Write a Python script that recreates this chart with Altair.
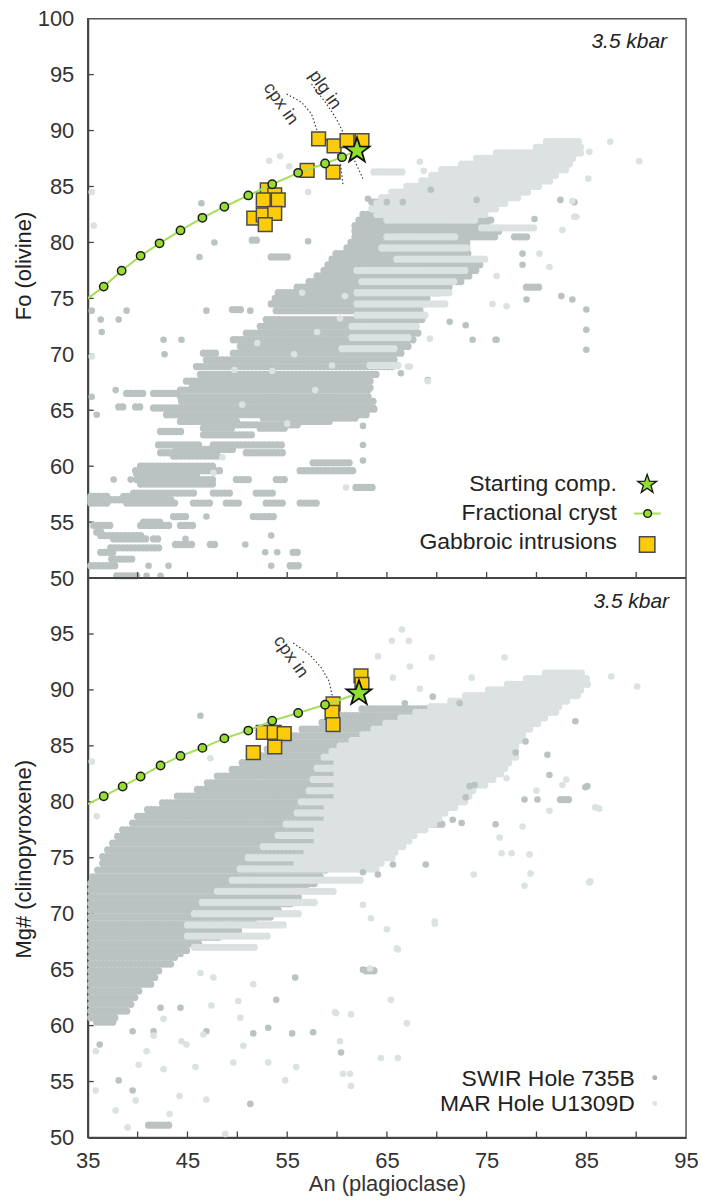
import altair as alt
import pandas as pd

# ---------------- data ----------------
# Olivine panel: dense horizontal streaks of SWIR Hole 735B analyses (Fo, An from, An to)
TOP_SWIR_STREAKS = [
    (50.2, 37.9, 40.3), (51.1, 35.3, 37.9), (51.1, 55.3, 56.3), (51.7, 37.4, 39.6), (52.3, 36.3, 37.8),
    (52.3, 55.6, 56.3), (52.7, 37.3, 42.3), (53.0, 43.8, 45.6), (53.0, 47.3, 48.1), (53.5, 37.6, 40.9),
    (53.5, 41.6, 42.3), (53.8, 36.3, 40.6), (54.1, 35.9, 36.6), (54.7, 35.6, 37.6), (54.7, 40.3, 43.3),
    (54.7, 44.3, 45.9), (55.0, 40.6, 42.6), (55.5, 43.6, 44.9), (55.5, 51.6, 53.9), (56.7, 35.3, 37.3),
    (56.7, 38.9, 43.9), (56.7, 45.6, 47.3), (56.7, 48.9, 50.3), (56.7, 52.9, 54.9), (56.7, 56.3, 58.3),
    (57.0, 35.3, 43.6), (57.3, 35.3, 37.3), (57.3, 38.6, 42.3), (57.6, 39.6, 45.9), (57.6, 47.6, 49.6),
    (57.6, 51.9, 53.9), (58.1, 61.9, 63.9), (58.4, 40.3, 47.9), (58.8, 39.9, 47.6), (58.8, 49.9, 51.3),
    (58.8, 53.9, 54.9), (59.3, 39.9, 46.3), (59.6, 39.8, 48.3), (59.6, 56.3, 61.6), (60.0, 40.3, 47.9),
    (60.3, 57.6, 61.3), (60.9, 43.6, 48.3), (61.2, 42.3, 44.9), (61.2, 46.6, 47.6), (61.2, 50.9, 54.9),
    (61.5, 43.9, 49.6), (61.9, 42.1, 46.3), (61.9, 47.6, 54.6), (62.8, 46.6, 51.6), (63.1, 42.3, 44.6),
    (63.4, 46.6, 49.6), (63.4, 52.3, 54.9), (63.7, 46.8, 56.3), (64.0, 44.3, 50.3), (64.0, 55.6, 59.6),
    (64.3, 44.4, 46.6), (64.3, 52.6, 62.0), (64.6, 42.9, 63.0), (65.2, 41.6, 64.0), (65.3, 38.1, 38.6),
    (65.3, 39.8, 40.3), (65.8, 44.4, 64.0), (66.2, 44.3, 63.5), (66.5, 38.9, 40.9), (66.5, 41.6, 44.3),
    (66.8, 44.3, 63.5), (67.2, 45.5, 63.0), (67.6, 44.9, 63.6), (68.2, 46.3, 64.1), (68.9, 45.9, 65.6),
    (69.5, 46.9, 66.0), (70.1, 46.6, 47.9), (70.1, 49.6, 66.8), (70.7, 50.3, 67.5), (71.3, 49.6, 67.9),
    (71.9, 50.9, 68.3), (72.5, 52.3, 68.3), (73.1, 52.9, 68.7), (73.9, 53.9, 68.7), (74.0, 49.5, 50.5),
    (74.5, 53.4, 68.7), (75.0, 53.8, 69.4), (75.5, 54.1, 70.5), (76.0, 56.0, 71.5), (76.0, 79.0, 80.5),
    (76.5, 57.2, 72.5), (77.0, 58.0, 73.3), (77.5, 58.7, 74.0), (78.0, 59.1, 74.5), (78.5, 59.5, 73.3),
    (78.7, 53.4, 55.1), (79.0, 59.9, 73.3), (79.5, 61.0, 73.3), (80.0, 61.4, 73.3), (80.2, 51.5, 52.3),
    (80.5, 61.8, 76.0), (80.5, 77.8, 79.4), (81.0, 61.8, 76.3), (81.5, 61.8, 75.2), (82.0, 62.2, 75.6),
    (82.5, 62.6, 73.3), (83.0, 64.5, 69.4), (83.0, 71.0, 73.3), (83.5, 65.6, 68.7), (83.6, 63.5, 66.6),
    (65.1, 61.3, 63.9), (67.0, 61.3, 63.6),
]
TOP_SWIR_DOTS = [  # (An, Fo)
    (40.9, 50.2), (42.3, 50.2), (41.1, 51.1), (43.1, 51.1), (53.4, 51.1), (52.8, 52.3), (54.0, 52.3),
    (50.8, 53.0), (44.8, 53.5), (53.4, 53.8), (46.9, 55.5), (37.6, 58.8), (39.3, 58.8), (42.6, 71.3),
    (44.4, 71.3), (42.7, 70.0), (36.3, 73.1), (38.1, 73.1), (36.4, 72.0), (38.9, 73.9), (46.9, 73.9),
    (51.3, 73.9), (35.4, 73.9), (37.8, 66.8), (35.9, 64.6), (35.4, 66.2), (46.4, 83.5), (47.7, 80.0),
    (46.2, 78.7), (57.1, 80.1), (62.6, 63.6), (62.6, 61.9), (61.6, 59.6), (62.6, 60.5), (85.0, 74.0),
    (85.0, 72.2), (85.0, 70.4), (75.9, 71.3), (73.6, 71.3), (71.3, 72.9), (72.9, 72.6), (69.1, 67.7),
    (76.0, 71.3), (78.6, 79.0), (82.5, 75.2), (83.6, 74.9), (79.0, 74.9), (63.1, 83.9), (69.4, 84.7),
    (65.0, 83.6), (66.6, 83.6), (74.0, 83.8), (82.4, 83.8), (83.8, 83.6), (79.8, 82.1), (78.6, 78.0),
    (66.4, 68.3),
]
# Olivine panel: MAR Hole U1309D
TOP_MAR_STREAKS = [
    (89.0, 81.0, 84.5), (88.5, 80.0, 84.8), (88.0, 76.0, 84.5), (87.5, 74.0, 84.0), (87.0, 72.5, 83.5),
    (86.5, 70.5, 83.0), (86.3, 63.7, 66.8), (86.0, 69.5, 82.0), (85.5, 68.5, 81.5), (85.0, 67.0, 80.5),
    (84.5, 65.5, 79.5), (84.0, 64.5, 78.5), (83.5, 64.0, 77.0), (83.0, 63.5, 76.0), (82.5, 64.0, 75.0),
    (82.0, 65.0, 74.0), (81.3, 74.5, 80.0), (80.5, 65.0, 72.0), (79.5, 64.5, 73.0), (78.5, 66.0, 75.0),
    (77.5, 62.0, 73.0), (76.5, 62.5, 72.0), (75.5, 62.0, 71.5), (74.5, 62.0, 71.0), (73.5, 62.0, 69.0),
    (72.5, 61.5, 68.0), (71.5, 61.5, 67.5), (70.5, 60.5, 66.0), (69.0, 63.3, 66.4),
]
TOP_MAR_DOTS = [
    (35.4, 84.5), (35.6, 81.5), (35.4, 69.8), (53.2, 87.3), (54.3, 87.7), (55.2, 86.8), (57.1, 84.5),
    (87.4, 89.0), (90.3, 87.25), (85.3, 88.1), (85.2, 85.7), (84.0, 82.3), (82.6, 81.1), (81.3, 77.8),
    (83.6, 83.7), (83.8, 82.3), (67.3, 68.9), (69.3, 71.4), (67.1, 68.9), (69.1, 67.6), (75.6, 74.5),
    (77.0, 74.3), (60.3, 73.2), (55.7, 70.0), (58.0, 72.0), (59.5, 69.0), (57.8, 66.8), (53.5, 68.5),
    (50.5, 65.5), (55.0, 63.8), (48.5, 60.8), (47.6, 59.4), (60.9, 58.1), (49.7, 68.6), (52.0, 71.0),
    (56.5, 75.5), (60.8, 75.2), (68.7, 86.4), (68.3, 87.2), (71.7, 86.2), (80.3, 79.0), (73.0, 79.5),
    (76.0, 77.0),
]

# Clinopyroxene panel: SWIR Hole 735B (Mg#, An from, An to)
BOT_SWIR_STREAKS = [
    (88.3, 62.5, 69.6), (87.7, 60.0, 70.0), (87.1, 58.5, 70.3), (86.5, 56.5, 70.5), (85.9, 55.5, 70.8),
    (85.3, 54.0, 71.0), (84.7, 53.0, 70.5), (84.1, 52.0, 69.5), (83.5, 50.5, 68.0), (82.9, 49.5, 67.0),
    (82.3, 48.0, 66.0), (81.7, 47.0, 65.0), (81.1, 46.0, 64.5), (80.5, 44.0, 64.0), (79.9, 42.5, 63.5),
    (79.3, 41.0, 63.0), (78.7, 40.0, 63.0), (78.1, 39.5, 62.5), (77.5, 38.5, 62.5), (76.9, 38.0, 62.0),
    (76.3, 37.5, 61.5), (75.7, 37.0, 61.5), (75.1, 36.5, 60.5), (74.5, 36.5, 60.0), (73.9, 36.0, 59.0),
    (73.3, 35.5, 58.5), (72.7, 35.3, 58.0), (72.1, 35.3, 57.0), (71.5, 35.3, 56.5), (70.9, 35.3, 55.5),
    (70.3, 35.3, 54.5), (69.7, 35.3, 53.5), (69.1, 35.3, 52.0), (68.5, 35.3, 50.5), (67.9, 35.3, 48.5),
    (67.3, 35.3, 46.5), (66.7, 35.3, 45.0), (66.1, 35.3, 44.0), (65.5, 35.3, 43.5), (64.9, 35.3, 42.5),
    (64.3, 35.3, 42.0), (63.7, 35.3, 41.5), (63.1, 35.3, 40.5), (62.5, 35.3, 40.0), (61.9, 35.3, 39.5),
    (61.3, 35.3, 39.0), (60.7, 35.3, 38.0), (60.3, 35.9, 37.6), (51.1, 41.1, 43.4), (64.9, 62.9, 63.8),
    (78.0, 69.3, 70.9), (80.2, 82.4, 83.6),
]
BOT_SWIR_DOTS = [
    (66.8, 88.8), (69.6, 89.4), (72.3, 88.8), (81.3, 82.4), (84.9, 81.3), (80.1, 80.2), (78.8, 80.2),
    (71.6, 78.4), (75.9, 78.0), (72.9, 80.4), (73.8, 81.5), (77.9, 84.4), (78.9, 85.4), (81.1, 84.2),
    (83.9, 87.2), (68.9, 74.4), (65.6, 74.4), (62.6, 73.7), (85.1, 81.4), (73.3, 81.4), (72.5, 78.1),
    (64.1, 73.5), (62.6, 65.0), (36.2, 58.3), (38.1, 55.1), (39.5, 54.2), (39.5, 59.5), (41.6, 59.5),
    (42.3, 61.6), (44.3, 61.6), (44.3, 66.4), (46.9, 59.5), (51.6, 59.3), (51.3, 53.0), (53.1, 59.8),
    (53.9, 62.3), (55.5, 59.3), (55.8, 64.3), (57.6, 59.4), (60.4, 57.6), (46.3, 87.7),
]
# Clinopyroxene panel: MAR Hole U1309D
BOT_MAR_STREAKS = [
    (91.5, 80.9, 84.8), (91.0, 79.0, 85.1), (90.5, 77.1, 85.5), (90.0, 75.2, 84.8), (89.5, 72.9, 84.4),
    (89.0, 71.4, 83.2), (88.5, 69.4, 82.5), (88.0, 67.9, 82.1), (87.5, 66.4, 80.9), (87.0, 64.9, 80.2),
    (86.5, 63.7, 79.4), (86.0, 62.6, 78.8), (85.5, 61.5, 78.5), (85.0, 60.3, 78.3), (84.5, 59.5, 78.0),
    (84.0, 58.7, 78.0), (83.5, 60.0, 77.5), (83.0, 58.0, 77.0), (82.5, 60.0, 76.5), (82.0, 57.6, 76.0),
    (81.5, 60.0, 75.0), (81.0, 57.2, 74.0), (80.5, 60.0, 73.5), (80.0, 56.4, 73.0), (79.5, 59.0, 72.0),
    (79.0, 56.0, 71.0), (78.5, 59.0, 70.5), (78.0, 54.9, 70.0), (77.5, 58.0, 69.0), (77.0, 54.1, 67.9),
    (76.5, 58.0, 67.3), (76.0, 52.6, 66.8), (75.5, 57.0, 66.2), (75.0, 51.1, 65.6), (74.5, 56.0, 64.8),
    (74.0, 50.3, 64.1), (73.0, 49.5, 62.6), (72.0, 48.0, 59.9), (71.0, 46.5, 58.0), (70.0, 45.7, 56.4),
    (69.0, 45.0, 54.9), (68.0, 45.0, 53.4), (67.0, 45.7, 51.8),
]
BOT_MAR_DOTS = [
    (66.5, 95.4), (65.5, 94.4), (67.2, 94.4), (64.1, 93.0), (69.5, 92.9), (67.3, 92.1), (76.8, 92.9),
    (65.6, 91.1), (73.5, 91.1), (68.3, 90.1), (87.5, 91.2), (90.1, 90.3), (86.3, 79.4), (83.0, 82.0),
    (85.4, 72.9), (78.8, 72.5), (79.4, 73.6), (77.5, 75.4), (76.5, 75.4), (73.7, 73.5), (69.8, 69.3),
    (66.0, 66.9), (63.3, 65.1), (65.4, 62.3), (67.0, 60.2), (59.9, 61.1), (61.4, 54.6), (62.6, 70.8),
    (63.4, 69.6), (65.0, 68.6), (66.1, 66.8), (69.8, 69.1), (85.3, 72.8), (64.4, 57.1), (66.1, 57.1),
    (61.4, 61.0), (61.3, 55.7), (35.8, 57.7), (35.8, 54.2), (37.8, 52.4), (39.0, 50.9), (39.8, 53.3),
    (40.1, 56.5), (40.9, 57.7), (42.6, 56.1), (43.2, 52.1), (44.4, 58.6), (44.9, 58.3), (45.8, 56.3),
    (46.9, 53.4), (44.2, 53.7), (48.8, 50.3), (50.6, 58.2), (49.6, 56.7), (50.3, 60.7), (53.1, 56.7),
    (54.8, 55.1), (55.9, 56.3), (59.8, 61.2), (60.3, 58.6), (60.6, 55.7), (42.6, 60.6), (41.6, 59.1),
    (46.6, 59.2), (47.4, 61.8), (50.1, 62.2), (47.6, 64.3), (51.6, 63.7), (46.3, 64.7), (35.4, 83.6),
    (35.9, 78.7), (47.3, 83.9), (77.0, 82.1), (80.0, 81.0), (81.3, 79.2), (82.6, 81.5), (85.9, 79.5),
    (78.6, 77.8), (76.3, 76.8), (79.3, 75.3),
]

# Fractional crystallization model
TOP_FC_AN = [36.6, 38.4, 40.3, 42.2, 44.3, 46.5, 48.7, 51.1, 53.5, 56.1, 58.8, 60.5]
TOP_FC_FO = [76.05, 77.47, 78.8, 79.92, 81.07, 82.2, 83.19, 84.2, 85.2, 86.22, 87.05, 87.62]
TOP_FC_START = (35.0, 75.0)
BOT_FC_AN = [36.6, 38.5, 40.3, 42.3, 44.3, 46.5, 48.7, 51.1, 53.5, 56.1, 58.8]
BOT_FC_MG = [80.5, 81.37, 82.26, 83.25, 84.1, 84.82, 85.67, 86.37, 87.25, 87.94, 88.68]
BOT_FC_START = (35.0, 79.8)

# Starting composition
TOP_START = (62.0, 88.2)
BOT_START = (62.2, 89.7)

# Gabbroic intrusions
TOP_GAB_AN = [58.15, 59.7, 61.0, 62.5, 57.0, 59.6, 53.0, 53.75, 52.6, 54.1, 51.65, 52.6, 53.75, 52.8]
TOP_GAB_FO = [89.26, 88.63, 89.1, 89.1, 86.43, 86.28, 84.7, 84.26, 83.8, 83.8, 82.17, 82.47, 82.6, 81.6]
BOT_GAB_AN = [62.4, 62.5, 59.6, 59.5, 59.6, 52.6, 53.7, 54.7, 53.75, 51.6]
BOT_GAB_MG = [91.25, 90.5, 88.75, 88.0, 86.9, 86.2, 86.2, 86.1, 84.9, 84.4]

# Phase-in boundaries (dotted) and their labels
TOP_CPX_AN = [54.94, 56.44, 57.44, 58.0, 59.27, 60.27, 60.6]
TOP_CPX_FO = [93.27, 92.52, 91.49, 90.0, 88.82, 87.62, 85.1]
TOP_PLG_AN = [57.44, 58.94, 59.94, 60.6, 61.6, 62.6]
TOP_PLG_FO = [94.16, 92.38, 91.04, 89.85, 87.62, 85.7]
BOT_CPX_AN = [55.6, 57.27, 58.44, 59.2, 59.54]
BOT_CPX_MG = [94.2, 93.15, 91.96, 90.78, 89.44]
TOP_PHASE_LABELS = [("cpx in", 54.34, 92.38), ("plg in", 58.77, 93.62)]
BOT_PHASE_LABELS = [("cpx in", 55.34, 92.95)]

X_TICKS = [40, 45, 50, 55, 60, 65, 70, 75, 80, 85, 90]
X_LABELS = [35, 45, 55, 65, 75, 85, 95]
Y_TICKS = [55, 60, 65, 70, 75, 80, 85, 90, 95]
Y_LABELS = [50, 55, 60, 65, 70, 75, 80, 85, 90, 95, 100]
TOP_LEGEND = ["Starting comp.", "Fractional cryst", "Gabbroic intrusions"]
BOT_LEGEND = ["SWIR Hole 735B", "MAR Hole U1309D"]
PRESSURE = "3.5 kbar"
Y_TITLES = ["Fo (olivine)", "Mg# (clinopyroxene)"]
X_TITLE = "An (plagioclase)"

# ---------------- styling / layout (pixels) ----------------
# One plot area holds both panels: the olivine panel is the upper half
# (stacked value = Fo), the clinopyroxene panel the lower half (stacked value = Mg# - 50).
FONT = "Liberation Sans"
W, PH = 600, 561
H = 2 * PH
SWIR_C = "#bac3c2"
MAR_C = "#dbe2e1"
DOT = 6.6
STREAK_W = 7.3
TEXT_C = "#222222"
AX_C = "#444444"
STAR = ("M0,-1L0.235,-0.324L0.951,-0.309L0.38,0.124L0.588,0.809L0,0.4L-0.588,0.809"
        "L-0.38,0.124L-0.951,-0.309L-0.235,-0.324Z")

xs = alt.Scale(domain=[35, 95], nice=False, zero=False)
ys = alt.Scale(domain=[0, 100], nice=False, zero=False)

yaxis = alt.Axis(values=[v - 50 for v in Y_LABELS[:-1]] + Y_LABELS, ticks=False, tickSize=0,
                 grid=False, domain=True, domainColor=AX_C, domainWidth=2, labelFont=FONT,
                 labelFontSize=22, labelColor="#333333", labelPadding=14, title=None,
                 labelExpr="datum.value >= 50 ? datum.value : datum.value + 50",
                 labelFlush=False, labelOverlap=False)
xaxis = alt.Axis(values=X_LABELS, ticks=False, tickSize=0, grid=False, domain=True,
                 domainColor=AX_C, domainWidth=2, labelFont=FONT, labelFontSize=22,
                 labelColor="#333333", labelPadding=13, title=X_TITLE, titleFont=FONT,
                 titleFontSize=22, titleFontWeight="normal", titleColor="#333333",
                 titlePadding=2, labelFlush=False)


def X(f):
    return alt.X(f, type="quantitative", scale=xs, axis=xaxis)


def Y(f="ys"):
    return alt.Y(f, type="quantitative", scale=ys, axis=yaxis)


def dx(px):   # layout pixel -> x value
    return 35 + px * 60.0 / W


def dy(py):   # layout pixel -> stacked y value
    return 100 - py * 100.0 / H


def shift(ch, bottom):
    return ch.transform_calculate(ys="datum.y - 50" if bottom else "datum.y")


def streaks(rows, color, bottom):
    df = pd.DataFrame(rows, columns=["y", "x", "x2"])
    ch = alt.Chart(df).mark_rule(color=color, strokeWidth=STREAK_W, strokeCap="round",
                                 strokeDash=[0.1, 3.9]).encode(x=X("x"), x2="x2:Q", y=Y())
    return shift(ch, bottom)


def dots(rows, color, bottom):
    df = pd.DataFrame(rows, columns=["x", "y"])
    ch = alt.Chart(df).mark_circle(color=color, size=DOT * DOT, opacity=1).encode(x=X("x"), y=Y())
    return shift(ch, bottom)


def model_layers(fc_an, fc_y, fc_start, star, gab_an, gab_y, bottom):
    line_df = pd.DataFrame({"x": [fc_start[0]] + fc_an + [star[0]],
                            "y": [fc_start[1]] + fc_y + [star[1]],
                            "o": list(range(len(fc_an) + 2))})
    gab = shift(alt.Chart(pd.DataFrame({"x": gab_an, "y": gab_y})).mark_point(
        shape="square", filled=True, fill="#fccb0a", stroke="#4a4a4a", strokeWidth=1.5,
        size=190, opacity=1).encode(x=X("x"), y=Y()), bottom)
    line = shift(alt.Chart(line_df).mark_line(color="#a5df5a", strokeWidth=2, clip=True).encode(
        x=X("x"), y=Y(), order="o:Q"), bottom)
    circ = shift(alt.Chart(pd.DataFrame({"x": fc_an, "y": fc_y})).mark_point(
        shape="circle", filled=True, fill="#97dc34", stroke="#1c1c1c", strokeWidth=1.5,
        size=70, opacity=1).encode(x=X("x"), y=Y()), bottom)
    st = shift(alt.Chart(pd.DataFrame({"x": [star[0]], "y": [star[1]]})).mark_point(
        shape=STAR, filled=True, fill="#8fdf2e", stroke="#111111", strokeWidth=1.8,
        size=690, opacity=1).encode(x=X("x"), y=Y()), bottom)
    return [gab, line, circ, st]


def phase_layers(curves, labels, bottom):
    out = []
    for an, yy in curves:
        df = pd.DataFrame({"x": an, "y": yy, "o": list(range(len(an)))})
        out.append(shift(alt.Chart(df).mark_line(color="#333333", strokeWidth=1.1,
                                                 strokeDash=[1.5, 2.2]).encode(
            x=X("x"), y=Y(), order="o:Q"), bottom))
    ldf = pd.DataFrame(labels, columns=["t", "x", "y"])
    out.append(shift(alt.Chart(ldf).mark_text(font=FONT, fontSize=18, color="#333333", angle=55,
                                              align="center", baseline="middle").encode(
        x=X("x"), y=Y(), text="t:N"), bottom))
    return out


def texts(items, **kw):
    df = pd.DataFrame([(t, dx(px), dy(py)) for t, px, py in items], columns=["t", "x", "ys"])
    return alt.Chart(df).mark_text(font=FONT, color=TEXT_C, **kw).encode(
        x=X("x"), y=Y(), text="t:N")


def symbols(px, py, **kw):
    df = pd.DataFrame({"x": [dx(p) for p in px], "ys": [dy(p) for p in py]})
    return alt.Chart(df).mark_point(filled=True, opacity=1, **kw).encode(x=X("x"), y=Y())


# ---------------- axes and frame ----------------
ytick_df = pd.DataFrame({"v": [v - 50 for v in Y_TICKS] + Y_TICKS})
ytick = alt.Chart(ytick_df).mark_rule(color=AX_C, strokeWidth=1.3).encode(
    y=Y("v"), x=alt.value(0), x2=alt.value(6))
xtick_df = pd.DataFrame({"v": X_TICKS})
xtick_low = alt.Chart(xtick_df).mark_rule(color=AX_C, strokeWidth=1.3).encode(
    x=X("v"), y=alt.value(H), y2=alt.value(H - 6))
xtick_mid = alt.Chart(xtick_df).mark_rule(color=AX_C, strokeWidth=1.3).encode(
    x=X("v"), y=alt.value(PH), y2=alt.value(PH - 6))
divider = alt.Chart(pd.DataFrame({"v": [50]})).mark_rule(color=AX_C, strokeWidth=2).encode(
    y=Y("v"))
titles = texts([(Y_TITLES[0], -57, 248), (Y_TITLES[1], -57, PH + 282)],
               angle=270, align="center", baseline="alphabetic", fontSize=22)

# ---------------- panel contents ----------------
top_layers = [streaks(TOP_SWIR_STREAKS, SWIR_C, False), streaks(TOP_MAR_STREAKS, MAR_C, False),
              dots(TOP_SWIR_DOTS, SWIR_C, False), dots(TOP_MAR_DOTS, MAR_C, False)]
top_layers += phase_layers([(TOP_CPX_AN, TOP_CPX_FO), (TOP_PLG_AN, TOP_PLG_FO)], TOP_PHASE_LABELS, False)
top_layers += model_layers(TOP_FC_AN, TOP_FC_FO, TOP_FC_START, TOP_START, TOP_GAB_AN, TOP_GAB_FO, False)

bot_layers = [streaks(BOT_SWIR_STREAKS, SWIR_C, True), streaks(BOT_MAR_STREAKS, MAR_C, True),
              dots(BOT_SWIR_DOTS, SWIR_C, True), dots(BOT_MAR_DOTS, MAR_C, True)]
bot_layers += phase_layers([(BOT_CPX_AN, BOT_CPX_MG)], BOT_PHASE_LABELS, True)
bot_layers += model_layers(BOT_FC_AN, BOT_FC_MG, BOT_FC_START, BOT_START, BOT_GAB_AN, BOT_GAB_MG, True)

annot = [
    texts([(PRESSURE, 581, 29.6), (PRESSURE, 583, PH + 30.3)],
          align="right", baseline="alphabetic", fontSize=21, fontStyle="italic"),
    texts([(TOP_LEGEND[0], 530.7, 474), (TOP_LEGEND[1], 530.7, 502.5), (TOP_LEGEND[2], 530.7, 532),
           (BOT_LEGEND[0], 548.7, PH + 509.3), (BOT_LEGEND[1], 548.7, PH + 534.3)],
          align="right", baseline="alphabetic", fontSize=23),
    alt.Chart(pd.DataFrame({"x": [dx(548.0)], "x2": [dx(574.5)], "ys": [dy(496.3)]})).mark_rule(
        color="#a5df5a", strokeWidth=2).encode(x=X("x"), x2="x2:Q", y=Y()),
    symbols([561], [467], shape=STAR, fill="#8fdf2e", stroke="#111111", strokeWidth=1.3, size=400),
    symbols([561.5], [496.3], shape="circle", fill="#97dc34", stroke="#1c1c1c", strokeWidth=1.4, size=60),
    symbols([561], [527.3], shape="square", fill="#fccb0a", stroke="#4a4a4a", strokeWidth=1.5, size=240),
    symbols([568.7], [PH + 501], shape="circle", fill="#a9b3b2", size=25),
    symbols([568.7], [PH + 527], shape="circle", fill="#dde4e3", size=25),
]

chart = alt.layer(
    ytick, xtick_low, *bot_layers, *top_layers, xtick_mid, divider, *annot, titles
).properties(
    width=W, height=H,
    padding={"left": 13, "top": 6, "right": 2, "bottom": 2},
).configure_view(stroke="#555555", strokeWidth=1.5)

chart.save("out.html", embed_options={"renderer": "svg", "actions": False})
